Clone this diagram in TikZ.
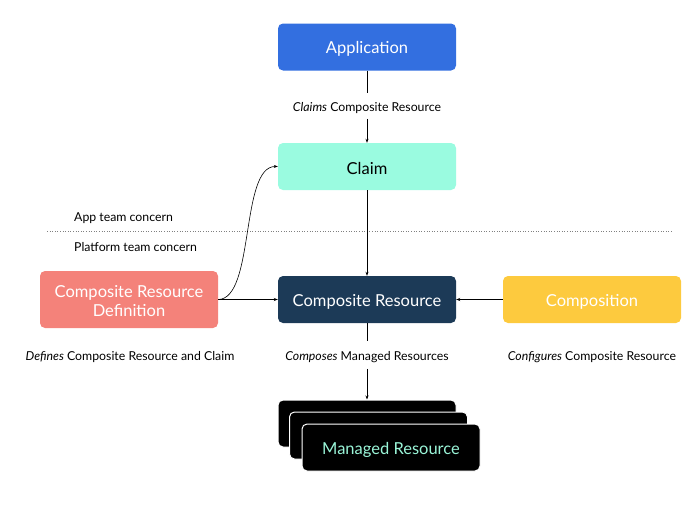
\documentclass[tikz,border=0pt]{standalone}
\usepackage{fontspec}
\setmainfont{Lato}
\usetikzlibrary{arrows.meta,calc}
\definecolor{appblue}{HTML}{336FE0}
\definecolor{claimmint}{HTML}{9AFBE0}
\definecolor{crdsalmon}{HTML}{F4827A}
\definecolor{crnavy}{HTML}{1C3A57}
\definecolor{compyellow}{HTML}{FDCA3E}
\definecolor{mrtext}{HTML}{9AF5D8}
\tikzset{
  box/.style={rounded corners=5pt, minimum width=178pt, minimum height=47pt, inner sep=0pt, align=center, font=\fontsize{16.5}{19}\selectfont},
  lbl/.style={font=\fontsize{12.3}{14}\selectfont, inner sep=0pt},
  conn/.style={draw=black, line width=0.6pt, -{Stealth[length=4pt,width=3pt]}},
  seg/.style={draw=black, line width=0.6pt},
  mrbox/.style={box, fill=black, draw=white, line width=1pt},
}
\newcommand{\lowr}[1]{\raisebox{-2pt}[\height][\depth]{#1}}
\newcommand{\lowl}[1]{\raisebox{-1pt}[\height][\depth]{#1}}
\begin{document}
\begin{tikzpicture}[x=1pt,y=-1pt]
\useasboundingbox (0,0) rectangle (700,506);
\node[box, fill=appblue, text=white] (app) at (367,47) {\lowr{Application}};
\node[box, fill=claimmint, text=black] (claim) at (367,166.5) {\lowr{Claim}};
\node[box, fill=crdsalmon, text=white, minimum height=57pt] (crd) at (129,299.5) {\raisebox{-3.5pt}[\height][\depth]{\begin{tabular}{@{}c@{}}Composite Resource\\[0pt]Definition\end{tabular}}};
\node[box, fill=crnavy, text=white] (cr) at (367,299.5) {\lowr{Composite Resource}};
\node[box, fill=compyellow, text=white] (comp) at (592,299.5) {\lowr{Composition}};

\node[mrbox] (mr1) at (367,423.5) {};
\node[mrbox] (mr2) at (378.5,435.5) {};
\node[mrbox, text=mrtext] (mr3) at (391,447.5) {\lowr{Managed Resource}};

\node[lbl] (l1) at (367,107) {\lowl{\textit{Claims} Composite Resource}};
\node[lbl] (l2) at (130,356) {\lowl{\textit{Defines} Composite Resource and Claim}};
\node[lbl] (l3) at (367,356) {\lowl{\textit{Composes} Managed Resources}};
\node[lbl] (l4) at (592,356) {\lowl{\textit{Configures} Composite Resource}};
\node[lbl, anchor=west] (app team) at (74,217) {\lowl{App team concern}};
\node[lbl, anchor=west] (plat team) at (74,246) {\lowl{Platform team concern}};

\coordinate (dl) at (47,231);
\coordinate (dr) at (672,231);
\draw[dotted, line width=0.6pt, gray] (dl) -- (dr);

\draw[seg] (app.south) -- ($(l1.north)+(0,-8)$);
\draw[conn] ($(l1.south)+(0,6)$) -- (claim.north);
\draw[conn] (claim.south) -- (cr.north);
\draw[conn] (crd.east) -- (cr.west);
\draw[conn] (comp.west) -- (cr.east);
\draw[conn] (crd.east) .. controls (255,299) and (240,166) .. (claim.west);
\draw[seg] (cr.south) -- ($(l3.north)+(0,-9)$);
\draw[conn] ($(l3.south)+(0,7)$) -- (mr1.north);
\end{tikzpicture}
\end{document}
